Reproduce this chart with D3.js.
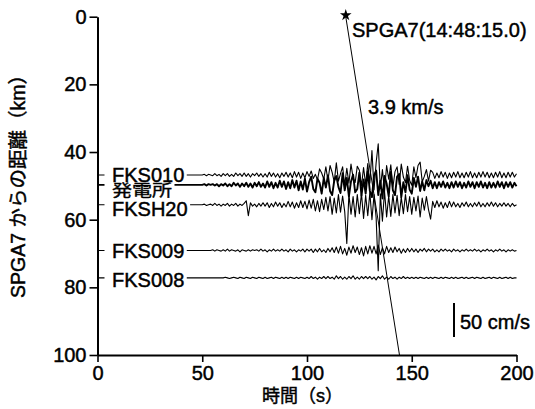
<!DOCTYPE html>
<html><head><meta charset="utf-8">
<script src="https://cdn.jsdelivr.net/npm/d3@7"></script>
<style>
html,body{margin:0;padding:0;background:#fff;}
svg{display:block;}
text{font-family:"Liberation Sans",Arial,"Noto Sans CJK JP",sans-serif;fill:#000;stroke:#000;stroke-width:0.45px;}
</style></head><body>
<svg id="chart" width="535" height="409"></svg>
<script>
// ---- data ----
const stations  = ["FKS010", "発電所", "FKSH20", "FKS009", "FKS008"];
const distances = [46.8, 49.7, 55.6, 69.1, 77.2];   // km from SPGA7
const xTicks = [0, 50, 100, 150, 200];
const yTicks = [0, 20, 40, 60, 80, 100];
const sampleStep = 1;          // s between samples
const originTime = 118.5;      // s, SPGA7 (14:48:15.0)
const velocity = 3.9;          // km/s
const scaleBarValue = 50;      // cm/s

// velocity waveforms (cm/s, positive up), one sample per second from 0 to 200 s
const fks010 = [
 0,0,0,0,0,0,0,0,0,0, 0,0,0,0,0,0,0,0,0,0, 0,0,0,0,0,0,0,0,0,0, 0,0,0,0,0,0,0,0,0,0,
 0,0,0,0,0,0,0,0,0,0,
 0,1,-1,1,0,-1,2,-1,1,-2,
 2,-1,2,-2,1,-2,3,-1,2,-2,
 3,-2,2,-3,2,-1,3,-2,2,-3,
 2,-3,4,-2,3,-3,2,-4,3,-2,
 4,-3,3,-4,5,-3,4,-5,3,-4,
 5,-2,6,-5,1,-7,9,3,-6,12,
 -8,14,4,-10,18,-9,2,12,-15,10,
 -12,16,-4,-11,13,7,-16,11,-14,17,
 -12,36,-22,18,46,-20,8,-24,14,-6,
 15,-18,5,12,-14,16,-3,-11,13,-8,
 -15,12,-4,14,19,-10,-2,8,-9,7,
 4,-5,3,-4,5,-3,4,-5,3,-4,
 4,-3,5,-4,3,-4,4,-3,5,-4,
 3,-4,4,-3,5,-3,4,-4,3,-4,
 4,-3,5,-4,3,-4,4,-3,4,-3,
 2];
const hatsudensho = [
 0,0,0,0,0,0,0,0,0,0, 0,0,0,0,0,0,0,0,0,0, 0,0,0,0,0,0,0,0,0,0, 0,0,0,0,0,0,0,0,0,0,
 0,0,0,0,0,0,0,0,0,0,
 0,1,-1,1,0,1,-1,1,-2,1,
 -1,2,-2,1,-2,3,-1,2,-3,2,
 -2,3,-3,2,-4,3,-2,4,-3,2,
 -4,5,-3,4,-5,3,-4,6,-3,5,
 -6,4,-5,7,-4,6,-8,5,-7,9,
 -10,4,12,-6,-11,9,3,-13,10,-4,
 14,-9,-15,6,13,-3,-12,17,-8,10,
 -17,5,15,-11,-6,18,-16,8,-13,20,
 -9,-18,14,21,-15,6,-20,13,2,-17,
 19,-8,-15,12,16,-18,4,-11,14,-7,
 -13,10,-3,12,-9,5,-8,7,-2,6,
 -5,4,-5,4,-3,5,-4,3,-5,4,
 -4,5,-3,4,-5,3,-4,5,-3,4,
 -5,4,-3,5,-4,3,-5,4,-4,3,
 -4,5,-3,4,-5,4,-3,4,-4,3,
 -2];
const fksh20 = [
 0,0,0,0,0,0,0,0,0,0, 0,0,0,0,0,0,0,0,0,0, 0,0,0,0,0,0,0,0,0,0, 0,0,0,0,0,0,0,0,0,0,
 0,0,0,0,0,0,0,0,0,0,
 0,1,-1,0,1,-1,2,-1,1,-2,
 1,-1,2,-2,1,-1,2,-2,1,-1,
 2,6,-16,3,-2,1,-3,2,-2,3,
 -2,3,-4,2,-3,4,-2,3,-4,2,
 -3,5,-3,4,-5,3,-4,6,-4,5,
 -6,7,-5,8,-9,6,-10,8,-7,11,
 -9,12,-14,10,-12,15,-11,13,-10,-57,
 16,-14,12,-18,15,-13,17,-20,14,-16,
 18,-22,15,-19,-97,16,-24,20,-18,13,
 -17,15,-12,14,-16,11,-13,15,-10,12,
 -14,11,-9,13,-18,10,-8,12,-7,-21,
 5,-4,6,-3,4,-5,3,-4,5,-3,
 4,-3,2,-4,3,-2,4,-3,2,-3,
 3,-2,4,-3,2,-3,3,-2,4,-2,
 3,-3,2,-2,3,-2,2,-3,2,-2,
 0];
const fks009 = [
 0,0,0,0,0,0,0,0,0,0, 0,0,0,0,0,0,0,0,0,0, 0,0,0,0,0,0,0,0,0,0, 0,0,0,0,0,0,0,0,0,0,
 0,0,0,0,0,0,0,0,0,0,
 0,0,0,0,0,1,-1,1,0,-1,
 1,-1,2,-1,1,0,-1,1,-2,1,
 0,-1,1,-1,1,0,1,-1,2,-1,
 1,-2,1,-1,2,-1,1,-1,2,-1,
 1,-2,2,-1,1,-2,1,-1,2,-2,
 2,-1,2,-3,2,-2,3,-2,1,-3,
 3,-2,4,-3,5,-4,6,-5,3,-7,
 5,-4,7,-3,5,-6,4,-8,6,-5,
 7,-4,6,-5,8,-6,4,-5,6,-3,
 4,-3,5,-2,3,-4,2,-3,3,-2,
 3,-2,2,-3,2,-1,3,-2,2,-1,
 2,-2,1,-2,2,-1,2,-1,1,-2,
 2,-1,1,-2,1,-1,2,-1,1,-1,
 2,-1,1,-2,1,-1,2,-1,1,-2,
 1,-1,2,-1,1,-2,1,-1,1,-1,
 0];
const fks008 = [
 0,0,0,0,0,0,0,0,0,0, 0,0,0,0,0,0,0,0,0,0, 0,0,0,0,0,0,0,0,0,0, 0,0,0,0,0,0,0,0,0,0,
 0,0,0,0,0,0,0,0,0,0,
 0,0,0,0,0,0,0,0,0,0,
 0,1,0,-1,0,1,0,-1,1,0,
 -1,1,0,-1,1,0,-1,1,0,-1,
 1,-1,0,1,-1,1,0,-1,1,-1,
 1,-1,1,0,-1,1,-1,1,0,-1,
 1,-1,2,-1,1,-2,1,-1,2,-1,
 2,-1,1,-2,3,-1,2,-2,1,-2,
 2,-1,3,-2,1,-2,2,-1,2,-1,
 2,-2,1,-3,2,-1,3,-2,1,-2,
 2,-1,1,-2,1,-1,2,-1,1,-1,
 1,-1,1,-1,1,0,-1,1,-1,1,
 -1,1,0,-1,1,-1,1,0,-1,1,
 -1,1,-1,0,1,-1,1,-1,0,1,
 -1,1,0,-1,1,-1,0,1,-1,1,
 0,-1,1,-1,0,1,-1,1,-1,0,
 0];
const waveforms = [fks010, hatsudensho, fksh20, fks009, fks008];

// ---- layout ----
const svg = d3.select("#chart");
const x = d3.scaleLinear().domain([0, 200]).range([97.5, 516.5]);
const y = d3.scaleLinear().domain([0, 100]).range([16.7, 355]);
const amp = d3.scaleLinear().domain([0, scaleBarValue]).range([0, 34]);

// traces
const traceW = [1.1, 1.9, 1.1, 1.1, 1.1];
const gTr = svg.append("g");
waveforms.forEach((w, k) => {
  const line = d3.line()
    .x((d, i) => x(i * sampleStep))
    .y(d => y(distances[k]) - amp(d));
  gTr.append("path").datum(w).attr("d", line)
    .attr("fill", "none").attr("stroke", "#000")
    .attr("stroke-width", traceW[k]).attr("stroke-linejoin", "round");
});

// station labels with white backing
const labelDy = [6.5, 11.5, 11.4, 7.2, 8.7];
const labelX = 112;
const gLab = svg.append("g");
const rects = gLab.append("g"), texts = gLab.append("g");
stations.forEach((s, k) => {
  const base = y(distances[k]) + labelDy[k];
  let t;
  if (k === 1) {
    t = texts.append("text")
      .attr("transform", `translate(${labelX},${base}) scale(1,0.8)`)
      .attr("x", 0).attr("y", -1)
      .attr("font-family", "Noto Sans CJK JP").attr("font-size", 20).text(s);
  } else {
    t = texts.append("text").attr("x", labelX).attr("y", base)
      .attr("font-size", 20).text(s);
  }
  const w = t.node().getComputedTextLength();
  rects.append("rect").attr("x", 104.5).attr("y", base - 15)
    .attr("width", labelX - 104.5 + w + 2.5).attr("height", 17).attr("fill", "#fff");
});

// axes
const ax = d3.axisBottom(x).tickValues(xTicks).tickSize(7).tickSizeOuter(0).tickPadding(4);
const gx = svg.append("g").attr("transform", `translate(0,${y(100)})`).call(ax);
const ay = d3.axisLeft(y).tickValues(yTicks).tickSize(8).tickSizeOuter(0).tickPadding(3);
const gy = svg.append("g").attr("transform", `translate(${x(0)},0)`).call(ay);
[gx, gy].forEach(g => {
  g.attr("font-size", 20).attr("font-family", null);
  g.select(".domain").attr("stroke-width", 2);
  g.selectAll(".tick line").attr("stroke-width", 1.6);
  g.selectAll(".tick text").attr("fill", "#000");
});

// axis titles
svg.append("text").attr("x", 262).attr("y", 402)
  .attr("font-family", "Noto Sans CJK JP").attr("font-size", 18).text("時間（s）");
svg.append("text").attr("transform", "translate(25,298) rotate(-90)")
  .attr("font-size", 19.5).text("SPGA7 からの距離（km）");

// travel-time line from the source
const tEnd = originTime + 100 / velocity;
svg.append("line").attr("x1", x(originTime)).attr("y1", y(0))
  .attr("x2", x(tEnd)).attr("y2", y(100))
  .attr("stroke", "#000").attr("stroke-width", 1);
svg.append("path").attr("d", d3.symbol(d3.symbolStar).size(42)())
  .attr("transform", `translate(${x(originTime)},${y(0) - 1.5})`).attr("fill", "#000");
svg.append("text").attr("x", 352).attr("y", 36.5).attr("font-size", 20)
  .text("SPGA7(14:48:15.0)");
svg.append("text").attr("x", 368).attr("y", 113.5).attr("font-size", 20)
  .text(`${velocity} km/s`);

// scale bar
svg.append("line").attr("x1", 454).attr("x2", 454)
  .attr("y1", 303).attr("y2", 303 + amp(scaleBarValue))
  .attr("stroke", "#000").attr("stroke-width", 2);
svg.append("text").attr("x", 460).attr("y", 328.5).attr("font-size", 20)
  .text(`${scaleBarValue} cm/s`);
</script>
</body></html>
